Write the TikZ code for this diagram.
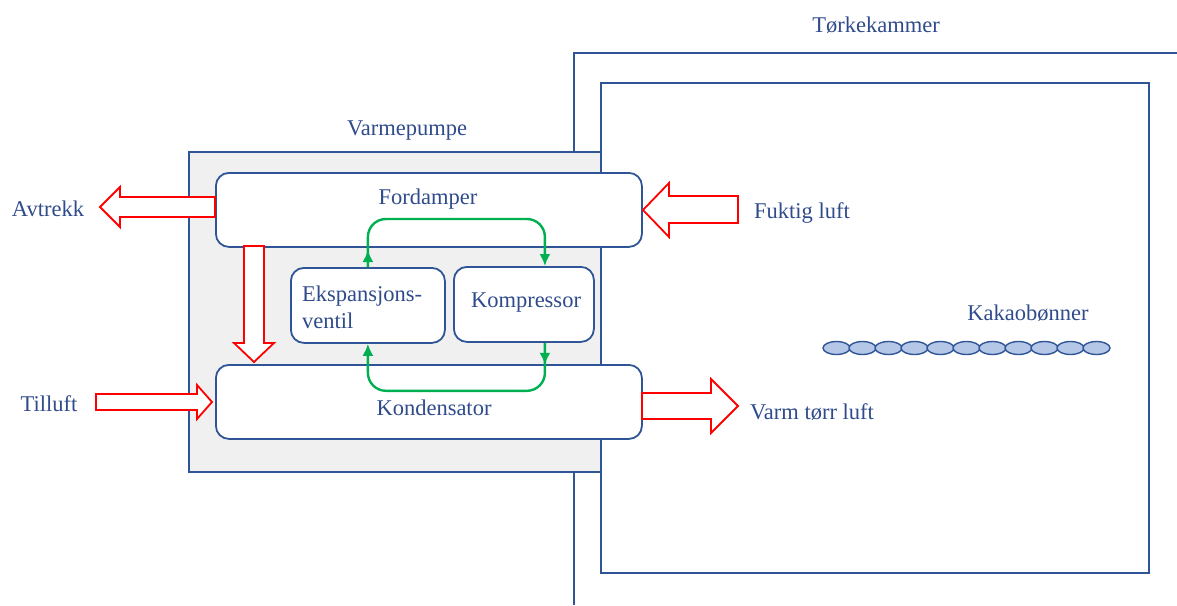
\documentclass[tikz,border=0pt]{standalone}
\usepackage{fontspec}
\setmainfont{Liberation Serif}
\newfontfamily\lserif{Liberation Serif}
\usetikzlibrary{arrows.meta,calc}
\definecolor{bord}{HTML}{2F5597}
\definecolor{txt}{HTML}{2F4B8C}
\definecolor{grn}{HTML}{00B050}
\definecolor{beanfill}{HTML}{B4C7E7}
\definecolor{pumpfill}{HTML}{F0F0F0}
\definecolor{redline}{HTML}{FF0000}
\begin{document}
\begin{tikzpicture}[x=1pt,y=-1pt,
  lbl/.style={text=txt, font=\lserif\fontsize{22.5}{27}\selectfont, inner sep=0},
  box/.style={draw=bord, line width=1.8pt, fill=white, rounded corners=13pt, inner sep=0, anchor=north west},
  wall/.style={draw=bord, line width=2.2pt},
  gr/.style={draw=grn, line width=2.4pt, rounded corners=18pt, -{Latex[length=12pt,width=11pt]}},
  grtip/.style={draw=grn, line width=2.4pt, -{Latex[length=12pt,width=11pt]}},
  redarrow/.style={draw=redline, line width=1.8pt, fill=white},
  bean/.style={draw=bord, line width=1.4pt, fill=beanfill}]
\useasboundingbox (0,0) rectangle (1177,605);
% drying chamber outer wall
\draw[wall] (574,605) -- (574,53) -- (1177,53);
% heat pump housing
\node[draw=bord, line width=1.8pt, fill=pumpfill, minimum width=412pt, minimum height=320pt, inner sep=0, anchor=north west] (pump) at (188,151) {};
% inner chamber
\node[draw=bord, line width=2.2pt, minimum width=548pt, minimum height=490pt, inner sep=0, anchor=north west] (kammer) at (600,82) {};
% components
\node[box, minimum width=426pt, minimum height=74pt] (ford) at (215,172) {};
\node[box, minimum width=426pt, minimum height=74pt] (kond) at (215,364) {};
\node[box, minimum width=154pt, minimum height=75pt] (eksp) at (290,267) {};
\node[box, minimum width=140pt, minimum height=75pt] (komp) at (453,266) {};
% labels
\node[lbl] (lford) at (428,199) {Fordamper};
\node[lbl] (lkond) at (434,408) {Kondensator};
\node[lbl, align=left, anchor=west] (leksp) at (302,307) {Ekspansjons-\\ventil};
\node[lbl] (lkomp) at (526,303) {Kompressor};
\node[lbl] (ltork) at (876,25) {Tørkekammer};
\node[lbl] (lvarm) at (407,131) {Varmepumpe};
\node[lbl] (lavt) at (48,209) {Avtrekk};
\node[lbl] (ltil) at (49,404) {Tilluft};
\node[lbl] (lfukt) at (802,213) {Fuktig luft};
\node[lbl] (lvtl) at (812,412) {Varm tørr luft};
\node[lbl] (lkak) at (1028,313) {Kakaobønner};
% green refrigerant loop
\draw[gr] (eksp.north) |- ($(komp.north)+(21,-47)$) -- ($(komp.north)+(21,0)$);
\draw[grtip] (eksp.north) -- ++(0,-17);
\draw[gr] ($(komp.south)+(21,0)$) |- ($(eksp.south)+(0,47)$) -- (eksp.south);
\draw[grtip] ($(komp.south)+(21,0)$) -- ++(0,22);
% red air arrows
\draw[redarrow] (215,197) -- (120,197) -- (120,187) -- (100,207) -- (120,227) -- (120,217) -- (215,217) -- cycle;
\draw[redarrow] (96,394) -- (197,394) -- (197,385) -- (212,402) -- (197,419) -- (197,410) -- (96,410) -- cycle;
\draw[redarrow] (738,196) -- (669,196) -- (669,183) -- (643,210) -- (669,237) -- (669,223) -- (738,223) -- cycle;
\draw[redarrow] (642,393) -- (711,393) -- (711,379) -- (738,406) -- (711,433) -- (711,419) -- (642,419) -- cycle;
\draw[redarrow] (244,246) -- (244,343) -- (234,343) -- (254,362) -- (274,343) -- (264,343) -- (264,246) -- cycle;
% cocoa beans
\foreach \i in {0,...,10} \draw[bean] (836.5+\i*26,348) ellipse (13.5pt and 6.5pt);
\end{tikzpicture}
\end{document}
